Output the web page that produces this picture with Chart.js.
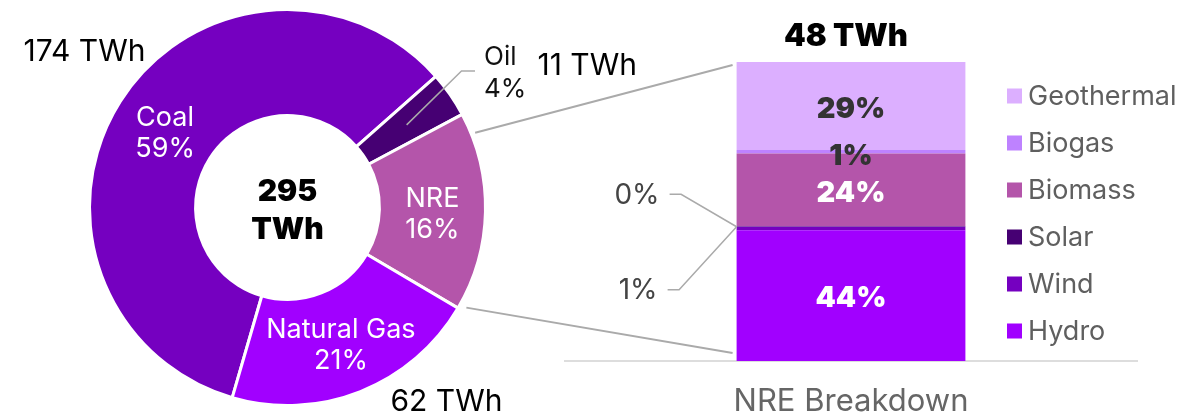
<!DOCTYPE html>
<html>
<head>
<meta charset="utf-8">
<script src="https://cdn.jsdelivr.net/npm/chart.js@4.4.1/dist/chart.umd.min.js"></script>
<style>
  html, body { margin: 0; padding: 0; background: #ffffff; }
  #wrap { position: relative; width: 1202px; height: 416px; overflow: hidden; }
  canvas { position: absolute; left: 0; top: 0; }
</style>
</head>
<body>
<div id="wrap">
  <canvas id="donut" width="1202" height="416"></canvas>
  <canvas id="bar" width="1202" height="416"></canvas>
</div>
<script>
// ---------- DATA ----------
const donutCategories = ['Coal', 'Oil', 'NRE', 'Natural Gas'];
const donutValues = [174, 11, 48, 62];            // TWh
const donutColors = ['#7500C0', '#460073', '#B455AA', '#A100FF'];
const donutCenterLabel = ['295', 'TWh'];

const nreCategories = ['Hydro', 'Wind', 'Solar', 'Biomass', 'Biogas', 'Geothermal'];
const nreShares = [43.7, 1.2, 0.2, 24.3, 1.2, 29.4];   // % of NRE
const nreColors = ['#A100FF', '#7500C0', '#460073', '#B455AA', '#BE82FF', '#DCAFFF'];
const nreTotalLabel = '48 TWh';
const nreAxisLabels = ['NRE Breakdown'];

// ---------- STYLE ----------
const FONT = 'Inter, "Open Sans", Roboto, sans-serif';
const DEG = Math.PI / 180;

// outer value labels (offset from donut centre, px)
const donutOuterLabel = {
  'Coal':        { dx: -142, dy: -156, align: 'right' },
  'Oil':         { dx: 250,  dy: -142, align: 'left' },
  'Natural Gas': { dx: 103,  dy: 194,  align: 'left' }
};

const donutLabelsPlugin = {
  id: 'donutLabels',
  afterDatasetsDraw(chart) {
    const ctx = chart.ctx;
    const meta = chart.getDatasetMeta(0);
    const total = donutValues.reduce((a, b) => a + b, 0);
    const c0 = meta.data[0];
    const cx = c0.x, cy = c0.y;
    ctx.save();
    ctx.textBaseline = 'middle';
    meta.data.forEach((arc, i) => {
      const name = donutCategories[i];
      const pct = Math.round(donutValues[i] / total * 100) + '%';
      const p = arc.tooltipPosition();
      if (name === 'Oil') {
        ctx.font = '400 26px ' + FONT;
        ctx.strokeStyle = '#aaaaaa';
        ctx.lineWidth = 1.5;
        ctx.beginPath();
        ctx.moveTo(p.x, p.y);
        ctx.lineTo(cx + 174, cy - 136.5);
        ctx.lineTo(cx + 187.5, cy - 136.5);
        ctx.stroke();
        ctx.fillStyle = '#111111';
        ctx.textAlign = 'left';
        ctx.fillText(name, cx + 196.5, cy - 150);
        ctx.fillText(pct, cx + 196.5, cy - 118.5);
      } else {
        ctx.font = '400 27px ' + FONT;
        ctx.fillStyle = '#ffffff';
        ctx.textAlign = 'center';
        ctx.fillText(name, p.x, p.y - 12);
        ctx.fillText(pct, p.x, p.y + 19);
      }
      const o = donutOuterLabel[name];
      if (o) {
        ctx.font = '400 30px ' + FONT;
        ctx.fillStyle = '#000000';
        ctx.textAlign = o.align;
        ctx.fillText(donutValues[i] + ' TWh', cx + o.dx, cy + o.dy);
      }
    });
    // centre total
    ctx.font = '900 30px ' + FONT;
    ctx.fillStyle = '#000000';
    ctx.textAlign = 'center';
    ctx.fillText(donutCenterLabel[0], cx, cy - 16);
    ctx.fillText(donutCenterLabel[1], cx, cy + 22);
    ctx.restore();
  }
};

const donutChart = new Chart(document.getElementById('donut'), {
  type: 'doughnut',
  data: {
    labels: donutCategories,
    datasets: [{
      data: donutValues,
      backgroundColor: donutColors,
      borderColor: '#ffffff',
      borderWidth: 3
    }]
  },
  options: {
    responsive: false,
    animation: false,
    events: [],
    rotation: 196.2,
    radius: 198,
    cutout: 91,
    layout: { padding: { left: 90, right: 717, top: 10, bottom: 11 } },
    plugins: { legend: { display: false }, tooltip: { enabled: false } }
  },
  plugins: [donutLabelsPlugin]
});

// ---------- BAR (NRE breakdown) ----------
const barDecorPlugin = {
  id: 'barDecor',
  afterDatasetsDraw(chart) {
    const ctx = chart.ctx;
    const els = chart.data.datasets.map((d, i) => chart.getDatasetMeta(i).data[0]);
    const left = els[0].x - els[0].width / 2;
    ctx.save();
    ctx.textBaseline = 'middle';
    ctx.textAlign = 'center';
    // inside labels
    nreCategories.forEach((name, i) => {
      const el = els[i];
      const pct = Math.round(nreShares[i]) + '%';
      const mid = (el.y + el.base) / 2;
      if (name === 'Wind' || name === 'Solar') return;
      ctx.font = '900 29px ' + FONT;
      ctx.fillStyle = (name === 'Hydro' || name === 'Biomass') ? '#ffffff' : '#333333';
      ctx.fillText(pct, el.x, mid + (name === 'Biogas' ? 5 : 3));
    });
    // outside labels for tiny segments
    const solar = els[nreCategories.indexOf('Solar')];
    const joinY = solar.base;
    const outs = [
      { i: nreCategories.indexOf('Solar'), ty: joinY - 32.5, tx: left - 77, lx: left - 67 },
      { i: nreCategories.indexOf('Wind'),  ty: joinY + 63, tx: left - 79, lx: left - 69 }
    ];
    outs.forEach(o => {
      ctx.strokeStyle = '#aaaaaa';
      ctx.lineWidth = 1.5;
      ctx.beginPath();
      ctx.moveTo(o.lx, o.ty);
      ctx.lineTo(o.lx + 11.5, o.ty);
      ctx.lineTo(left, joinY);
      ctx.stroke();
      ctx.font = '400 28px ' + FONT;
      ctx.fillStyle = '#444444';
      ctx.textAlign = 'right';
      ctx.fillText(Math.round(nreShares[o.i]) + '%', o.tx, o.ty + 1);
    });
    // total above bar
    const top = els[els.length - 1];
    ctx.font = '900 31px ' + FONT;
    ctx.fillStyle = '#000000';
    ctx.textAlign = 'center';
    ctx.fillText(nreTotalLabel, top.x - 5, top.y - 25);

    // legend (reverse order)
    const lx = chart.chartArea.right - 130;
    ctx.textAlign = 'left';
    nreCategories.slice().reverse().forEach((name, k) => {
      const idx = nreCategories.length - 1 - k;
      const y = 96 + k * 47;
      ctx.fillStyle = nreColors[idx];
      ctx.fillRect(lx, y - 7.5, 15, 15);
      ctx.font = '400 27px ' + FONT;
      ctx.fillStyle = '#5f5f5f';
      ctx.fillText(name, lx + 21, y + 1);
    });

    // connectors from donut NRE slice to bar
    const dMeta = donutChart.getDatasetMeta(0);
    const nre = dMeta.data[donutCategories.indexOf('NRE')];
    const a1 = nre.startAngle + 6.3 * DEG, r1 = nre.outerRadius + 4;
    const a2 = nre.endAngle - 1.3 * DEG, r2 = nre.outerRadius + 7;
    const bTop = top.y, bBot = els[0].base;
    ctx.strokeStyle = '#aaaaaa';
    ctx.lineWidth = 2;
    ctx.beginPath();
    ctx.moveTo(nre.x + r1 * Math.cos(a1), nre.y + r1 * Math.sin(a1));
    ctx.lineTo(left - 4, bTop + 3);
    ctx.moveTo(nre.x + r2 * Math.cos(a2), nre.y + r2 * Math.sin(a2));
    ctx.lineTo(left - 4, bBot - 8);
    ctx.stroke();
    ctx.restore();
  }
};

new Chart(document.getElementById('bar'), {
  type: 'bar',
  data: {
    labels: nreAxisLabels,
    datasets: nreCategories.map((name, i) => ({
      label: name,
      data: [nreShares[i]],
      backgroundColor: nreColors[i],
      borderWidth: 0,
      barPercentage: 0.4,
      categoryPercentage: 1
    }))
  },
  options: {
    responsive: false,
    animation: false,
    events: [],
    layout: { padding: { left: 565, right: 65, top: 62, bottom: -26.2 } },
    plugins: { legend: { display: false }, tooltip: { enabled: false } },
    scales: {
      x: {
        stacked: true,
        grid: { display: false, drawTicks: false },
        border: { display: true, color: '#dddddd', width: 2 },
        ticks: { color: '#666666', font: { family: FONT, size: 31 }, padding: 22 }
      },
      y: { stacked: true, display: false, min: 0, max: 100 }
    }
  },
  plugins: [barDecorPlugin]
});
</script>
</body>
</html>
